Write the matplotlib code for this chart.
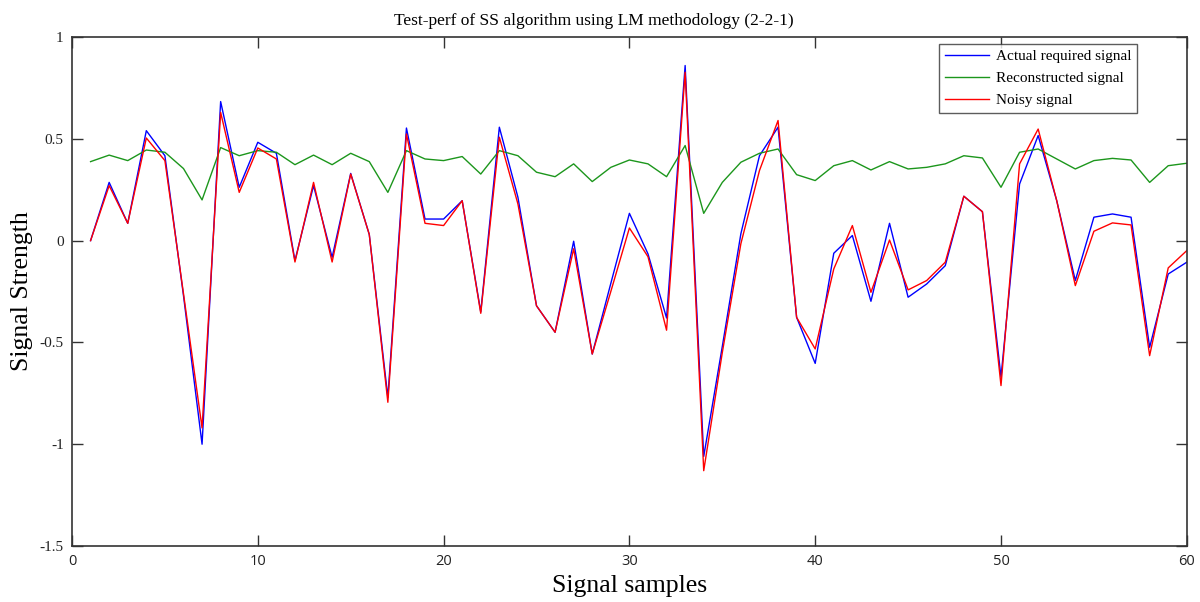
import numpy as np
import matplotlib
matplotlib.use("Agg")
import matplotlib.pyplot as plt

# Sample index
samples = np.arange(1, 61)

# Actual required signal
actual = [0, 0.286, 0.085, 0.54, 0.417, -0.27, -1.0, 0.683, 0.262, 0.483,
          0.429, -0.098, 0.27, -0.082, 0.33, 0.03, -0.77, 0.553, 0.106, 0.106,
          0.196, -0.35, 0.557, 0.213, -0.32, -0.45, -0.003, -0.557, -0.21, 0.134,
          -0.065, -0.38, 0.86, -1.06, -0.52, 0.034, 0.417, 0.557, -0.377, -0.603,
          -0.062, 0.025, -0.298, 0.085, -0.278, -0.213, -0.123, 0.218, 0.142, -0.671,
          0.278, 0.516, 0.196, -0.196, 0.115, 0.131, 0.115, -0.524, -0.164, -0.106]

# Reconstructed signal
reconstructed = [0.388, 0.42, 0.393, 0.445, 0.434, 0.354, 0.2, 0.457, 0.417, 0.442,
                 0.434, 0.373, 0.42, 0.373, 0.429, 0.388, 0.237, 0.442, 0.401, 0.393,
                 0.413, 0.327, 0.442, 0.417, 0.336, 0.314, 0.377, 0.29, 0.36, 0.396,
                 0.377, 0.314, 0.467, 0.134, 0.286, 0.385, 0.429, 0.45, 0.324, 0.295,
                 0.368, 0.393, 0.347, 0.388, 0.352, 0.36, 0.377, 0.417, 0.406, 0.262,
                 0.434, 0.45, 0.401, 0.352, 0.393, 0.404, 0.396, 0.286, 0.368, 0.38]

# Noisy signal
noisy = [0, 0.27, 0.085, 0.504, 0.393, -0.26, -0.92, 0.63, 0.237, 0.455,
         0.401, -0.105, 0.286, -0.105, 0.327, 0.03, -0.794, 0.524, 0.085, 0.074,
         0.196, -0.357, 0.508, 0.18, -0.32, -0.45, -0.04, -0.557, -0.25, 0.062,
         -0.079, -0.44, 0.827, -1.13, -0.55, -0.015, 0.344, 0.59, -0.377, -0.532,
         -0.139, 0.074, -0.254, 0.003, -0.242, -0.196, -0.106, 0.218, 0.142, -0.712,
         0.377, 0.548, 0.196, -0.221, 0.046, 0.087, 0.077, -0.565, -0.134, -0.049]

x_ticks = [0, 10, 20, 30, 40, 50, 60]
y_ticks = [-1.5, -1, -0.5, 0, 0.5, 1]
y_tick_labels = ["-1.5", "-1", "-0.5", "0", "0.5", "1"]

serif = ["Liberation Serif", "DejaVu Serif"]

fig = plt.figure(figsize=(12, 6.02), dpi=100)
ax = fig.add_axes([0.06, 0.093, 0.929, 0.8455])

ax.plot(samples, actual, color="#0000ff", lw=1.0, label="Actual required signal")
ax.plot(samples, reconstructed, color="#1c961c", lw=1.0, label="Reconstructed signal")
ax.plot(samples, noisy, color="#ff0000", lw=1.0, label="Noisy signal")

ax.set_xlim(0, 60)
ax.set_ylim(-1.5, 1)
ax.set_xticks(x_ticks)
ax.set_yticks(y_ticks)
ax.set_yticklabels(y_tick_labels)

ax.tick_params(direction="in", length=8, width=1, top=True, right=True,
               colors="#333333", labelcolor="#222222")
for lab in ax.get_xticklabels():
    lab.set_fontfamily(["Open Sans", "DejaVu Sans"])
    lab.set_fontsize(10.5)
for lab in ax.get_yticklabels():
    lab.set_fontfamily(serif)
    lab.set_fontsize(11)
ax.tick_params(axis="x", pad=6)
ax.tick_params(axis="y", pad=6)

for sp in ax.spines.values():
    sp.set_color("#333333")
    sp.set_linewidth(1.2)

ax.set_title("Test-perf of SS algorithm using LM methodology (2-2-1)",
             fontfamily=serif, fontsize=12.5, pad=9, x=0.468)
ax.set_xlabel("Signal samples", fontfamily=serif, fontsize=18.5, labelpad=4)
ax.set_ylabel("Signal Strength", fontfamily=serif, fontsize=18.5)
ax.yaxis.set_label_coords(-0.035, 0.5)

leg = ax.legend(loc="upper right", bbox_to_anchor=(0.955, 0.986),
                prop={"family": serif, "size": 11}, frameon=True, fancybox=False,
                edgecolor="#333333", handlelength=2.9, handletextpad=0.45,
                borderpad=0.35, labelspacing=0.55, borderaxespad=0.0)
leg.get_frame().set_linewidth(1.0)

fig.savefig("out.png", dpi=100)
